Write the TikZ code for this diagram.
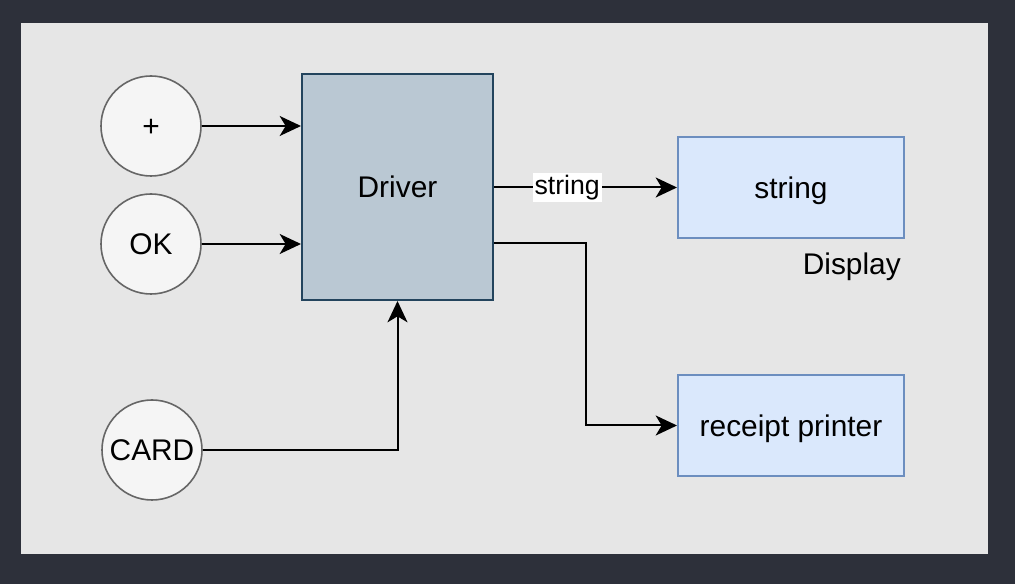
\documentclass[tikz,border=0pt]{standalone}
\usepackage{fontspec}
\setmainfont{Liberation Sans}
\usetikzlibrary{arrows.meta}
\definecolor{bgdark}{HTML}{2D303A}
\definecolor{panel}{HTML}{E6E6E6}
\definecolor{termfill}{HTML}{F5F5F5}
\definecolor{termline}{HTML}{666666}
\definecolor{drvfill}{HTML}{BAC8D3}
\definecolor{drvline}{HTML}{23445D}
\definecolor{outfill}{HTML}{DAE8FC}
\definecolor{outline}{HTML}{6C8EBF}
\tikzset{
  nodefont/.style={font=\fontsize{22.4pt}{26pt}\selectfont, text height=16pt, text depth=0pt},
  term/.style={nodefont, circle, draw=termline, fill=termfill, line width=1.2pt, minimum size=75pt, inner sep=0pt},
  drvbox/.style={nodefont, rectangle, draw=drvline, fill=drvfill, line width=1.5pt, minimum width=143.25pt, minimum height=169.5pt},
  outbox/.style={nodefont, rectangle, draw=outline, fill=outfill, line width=1.5pt, minimum width=169.5pt, minimum height=75.75pt},
  arr/.style={line width=1.5pt, -{Stealth[length=16pt,width=15pt,inset=4.5pt]}},
  lbl/.style={font=\fontsize{20pt}{24pt}\selectfont, fill=white, inner sep=1.5pt}
}
\begin{document}
\begin{tikzpicture}[x=0.75pt,y=-0.75pt]
\fill[bgdark] (0,0) rectangle (1015,584);
\useasboundingbox (0,0) rectangle (1015,584);
\fill[panel] (21,23) rectangle (988,554);

\node[term] (plus) at (151,126) {+};
\node[term] (ok) at (151,244) {OK};
\node[term] (card) at (152,450) {CARD};

\node[drvbox] (drv) at (397.5,187) {Driver};
\node[outbox] (disp) at (791,187.5) {string};
\node[outbox] (prn) at (791,425.5) {receipt printer};
\node[nodefont, anchor=east, inner sep=0pt] (displbl) at (901,264) {Display};

\coordinate (lvl) at (0,243);

\draw[arr] (plus.east) -- (plus.east -| drv.west);
\draw[arr] (ok.east) -- (ok.east -| drv.west);
\draw[arr] (card.east) -| (drv.south);
\draw[arr] (drv.east |- disp) -- (disp.west) node[pos=0.4, lbl] {string};
\draw[arr] (drv.east |- lvl) -- ++(92,0) |- (prn.west);
\end{tikzpicture}
\end{document}
